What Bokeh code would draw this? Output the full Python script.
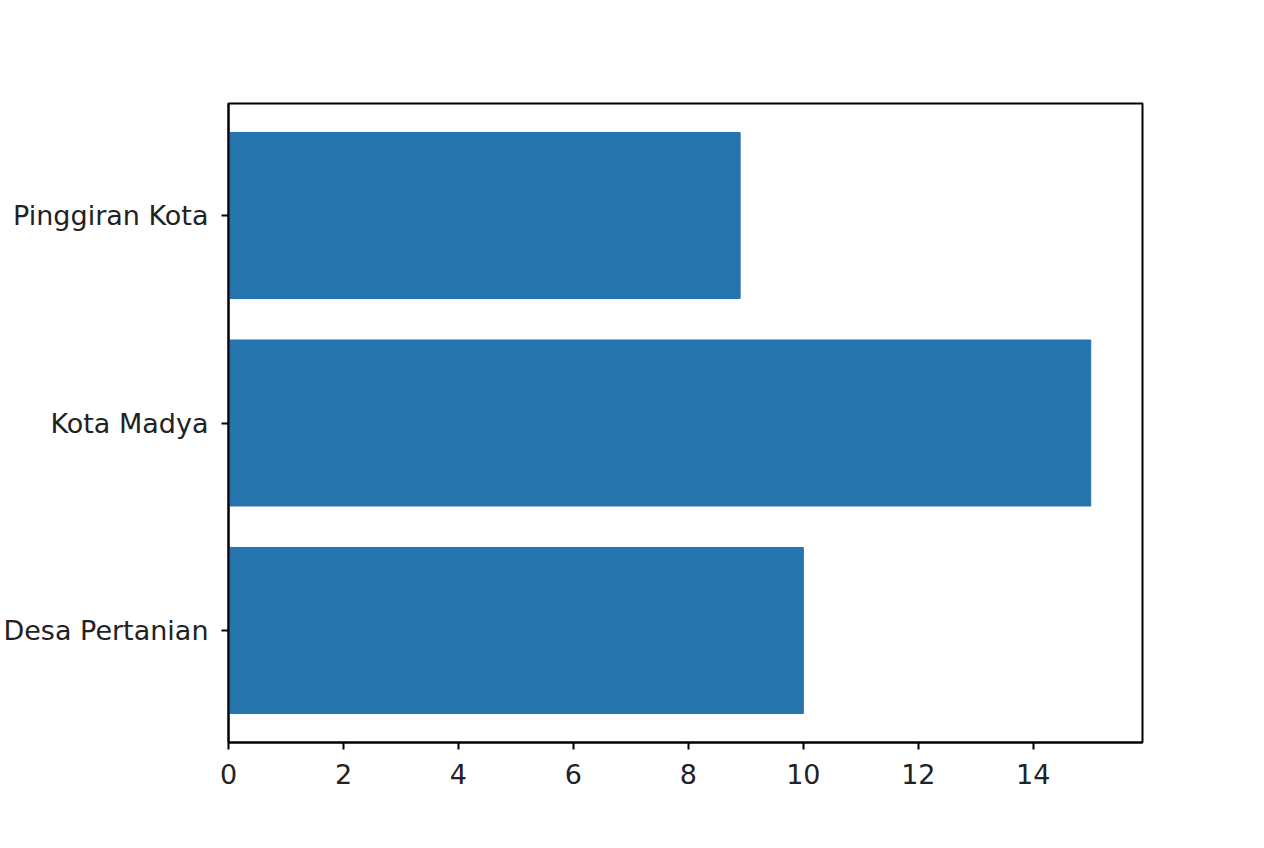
from bokeh.plotting import figure
from bokeh.models import FactorRange, Range1d, FixedTicker
from bokeh.embed import file_html
from bokeh.resources import INLINE

categories = ["Desa Pertanian", "Kota Madya", "Pinggiran Kota"]
values = [10.0, 15.0, 8.9]
x_ticks = [0, 2, 4, 6, 8, 10, 12, 14]

p = figure(
    width=1260, height=844,
    y_range=FactorRange(factors=categories, range_padding=0.08 / 3, range_padding_units="percent"),
    x_range=Range1d(0, 15.9),
    output_backend="svg", toolbar_location=None,
    min_border_left=227, min_border_right=118, min_border_top=103, min_border_bottom=102,
    background_fill_color="white", border_fill_color="white",
)

p.hbar(y=categories, right=values, left=0, height=0.8, fill_color="#2574ad", line_color="#2574ad")

p.xgrid.visible = False
p.ygrid.visible = False
p.outline_line_color = "black"
p.outline_line_width = 2

for ax in (p.xaxis[0], p.yaxis[0]):
    ax.axis_line_color = "black"
    ax.axis_line_width = 2
    ax.major_tick_line_color = "black"
    ax.major_tick_line_width = 2
    ax.major_tick_out = 7
    ax.major_tick_in = 0
    ax.minor_tick_line_color = None
    ax.major_label_text_font = "DejaVu Sans"
    ax.major_label_text_color = "#222222"

p.xaxis.ticker = FixedTicker(ticks=x_ticks)
p.xaxis.major_label_text_font_size = "27px"
p.xaxis.major_label_standoff = 14

p.yaxis.major_label_text_font_size = "27px"
p.yaxis.major_label_standoff = 13

open("out.html", "w").write(file_html(p, INLINE))
